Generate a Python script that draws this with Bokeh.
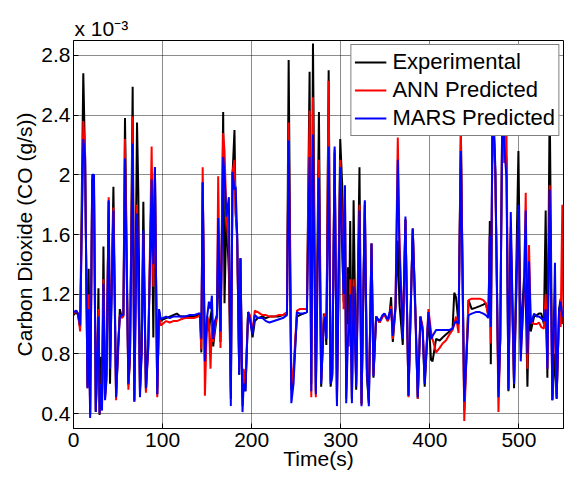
from bokeh.plotting import figure
from bokeh.models import FixedTicker, Legend, LegendItem, Range1d, Title
from bokeh.embed import file_html
from bokeh.resources import INLINE

# ---- data (CO2 in units of 1e-3 g/s) ----
time_s = [0, 3, 5, 7.5, 11, 13, 15.7, 17, 18.7, 21,
          23, 25, 26.5, 28, 29.3, 30.6, 32, 33.6, 35.4, 37,
          39.5, 41, 44.8, 47.8, 50, 52, 54, 56, 57.8, 61.6,
          63.4, 66.4, 68.3, 71.3, 72.8, 74.6, 76.5, 78.4, 81.3, 84,
          87.7, 89.6, 91.4, 94, 96, 98, 100, 104, 108, 112,
          116, 120, 125, 130, 135, 140, 142, 143.5, 145, 147.5,
          150, 152, 153.8, 155.3, 156.8, 158.7, 161, 162.4, 165, 168,
          169.5, 171.7, 174.4, 176.6, 178.5, 180.7, 182, 183.7, 186, 187.4,
          189.7, 191, 193, 196, 198, 201, 203.5, 207, 212, 216,
          220, 225, 230, 235, 239.6, 241.5, 244.5, 247, 250.8, 254,
          258, 262, 265, 266.9, 268.8, 272, 275.5, 278, 281, 282.5,
          283.8, 286.4, 288.6, 290.5, 293.1, 295.7, 299.4, 301.7, 303.2, 304.7,
          306.1, 308, 309.1, 310.6, 312.5, 314.4, 317.3, 321, 323.3, 327,
          329.3, 331.5, 334.5, 336.7, 339.7, 343.5, 347, 349, 352.8, 354.5,
          356.5, 358.4, 361.4, 364, 365.8, 369.6, 372.6, 376, 380.8, 383.8,
          386.4, 389.4, 392, 394.2, 398.4, 401.3, 403, 407, 411, 414.3,
          418, 422, 425.5, 427.4, 429.3, 432.2, 434.8, 438.6, 443.4, 447,
          451.6, 456, 460, 462.8, 465.8, 467.3, 468.4, 470.5, 473.5, 477,
          479, 481.5, 483.4, 486, 488.2, 490.8, 494.5, 499.4, 502, 505.7,
          507.6, 509.5, 511.3, 513.2, 517, 520, 522.5, 525, 528, 530,
          531.9, 534.5, 537.5, 540.4, 542.3, 545, 546.8, 548.7, 550]

experimental = [1.06, 1.08, 1.06, 0.98, 2.68, 2.10, 0.58, 1.37, 0.40, 1.97,
                1.90, 0.41, 0.70, 1.24, 0.39, 0.78, 0.50, 1.52, 0.52, 0.67,
                1.82, 0.60, 1.92, 0.52, 0.80, 1.10, 1.05, 1.06, 2.38, 0.59,
                0.76, 2.59, 0.49, 2.35, 1.87, 0.55, 0.85, 1.82, 0.55, 0.90,
                1.95, 0.91, 2.05, 0.53, 1.09, 1.02, 1.03, 1.04, 1.05, 1.06,
                1.07, 1.05, 1.05, 1.05, 1.05, 1.06, 1.07, 0.81, 1.95, 0.75,
                1.05, 0.95, 1.05, 1.10, 0.85, 0.95, 1.05, 1.50, 0.88, 2.42,
                1.14, 1.75, 1.34, 0.50, 2.00, 2.30, 1.74, 1.60, 0.66, 1.44,
                0.50, 0.65, 0.55, 1.08, 1.05, 0.91, 1.02, 1.04, 1.05, 1.04,
                1.05, 1.05, 1.05, 1.06, 1.07, 2.77, 0.56, 0.67, 1.05, 1.06,
                1.07, 1.08, 2.69, 0.60, 2.88, 0.55, 2.42, 0.58, 1.07, 1.02,
                0.86, 2.70, 0.58, 0.67, 2.15, 0.50, 2.24, 1.92, 1.15, 1.85,
                0.56, 1.38, 0.90, 1.69, 0.50, 1.83, 0.56, 2.05, 0.47, 1.80,
                0.65, 0.47, 1.54, 0.64, 1.05, 1.01, 1.05, 1.07, 1.02, 1.05,
                1.18, 0.88, 1.10, 1.56, 1.14, 0.86, 1.70, 0.52, 1.64, 1.10,
                0.50, 1.05, 0.95, 0.58, 1.05, 0.76, 0.75, 0.90, 0.89, 0.91,
                0.93, 0.95, 0.97, 1.21, 1.18, 1.00, 2.30, 0.42, 1.16, 1.10,
                1.11, 1.12, 1.13, 1.14, 1.05, 1.69, 0.73, 2.55, 2.00, 0.55,
                0.90, 2.60, 2.30, 2.10, 0.55, 1.60, 0.57, 2.16, 0.90, 1.31,
                1.20, 0.58, 1.10, 0.95, 1.05, 1.06, 1.07, 1.07, 1.00, 1.76,
                0.64, 2.50, 0.49, 0.80, 0.50, 1.10, 1.17, 1.00, 1.05]

ann_predicted = [1.07, 1.09, 1.07, 0.95, 2.36, 2.15, 0.57, 1.20, 0.39, 1.95,
                 1.95, 0.42, 0.75, 1.10, 0.40, 0.60, 0.45, 1.30, 0.50, 0.65,
                 1.85, 0.80, 1.78, 0.49, 0.85, 1.06, 1.04, 1.05, 2.24, 0.56,
                 0.78, 2.39, 0.48, 1.80, 1.20, 0.56, 0.82, 1.60, 0.54, 0.85,
                 2.19, 1.25, 2.02, 0.51, 1.07, 0.99, 1.00, 1.02, 1.01, 1.02,
                 1.02, 1.03, 1.04, 1.04, 1.04, 1.05, 1.06, 0.83, 2.05, 0.52,
                 1.05, 1.00, 0.70, 1.00, 0.88, 0.98, 1.06, 1.99, 0.84, 2.28,
                 2.16, 1.72, 1.50, 0.55, 2.02, 2.10, 1.76, 1.55, 0.70, 1.44,
                 0.45, 0.70, 0.60, 1.08, 1.06, 0.95, 1.09, 1.08, 1.06, 1.06,
                 1.05, 1.05, 1.06, 1.06, 1.08, 2.35, 0.58, 0.70, 1.09, 1.10,
                 1.10, 1.10, 2.43, 0.51, 2.52, 0.51, 2.10, 0.62, 1.05, 1.07,
                 0.90, 2.63, 0.62, 0.70, 2.17, 0.48, 2.10, 1.60, 1.10, 1.90,
                 0.50, 1.00, 0.85, 1.30, 0.50, 1.30, 0.60, 1.80, 0.46, 1.82,
                 0.70, 0.50, 1.54, 0.66, 1.05, 1.01, 1.05, 1.06, 1.02, 1.06,
                 1.12, 0.90, 1.12, 2.25, 1.60, 0.90, 1.70, 0.51, 1.64, 1.05,
                 0.50, 1.05, 0.98, 0.62, 1.10, 0.95, 0.90, 0.81, 0.84, 0.87,
                 0.89, 0.93, 0.96, 1.00, 1.05, 0.94, 2.29, 0.35, 1.16, 1.17,
                 1.17, 1.17, 1.16, 1.14, 1.05, 1.59, 0.87, 2.50, 2.00, 0.41,
                 0.90, 2.55, 2.08, 2.30, 0.57, 1.65, 0.60, 1.77, 0.80, 1.20,
                 1.88, 0.70, 1.53, 1.02, 1.00, 1.00, 1.01, 0.98, 0.97, 1.20,
                 0.70, 1.93, 0.50, 1.20, 0.52, 1.05, 0.98, 1.80, 1.00]

mars_predicted = [1.08, 1.09, 1.07, 0.99, 2.24, 2.12, 0.57, 1.10, 0.37, 2.00,
                  2.00, 0.41, 0.75, 1.05, 0.40, 0.60, 0.42, 1.27, 0.49, 0.62,
                  1.83, 0.70, 1.76, 0.51, 0.85, 1.05, 1.06, 1.06, 2.11, 0.60,
                  0.80, 2.21, 0.48, 1.74, 1.40, 0.51, 0.80, 1.63, 0.57, 0.85,
                  1.97, 1.40, 2.05, 0.53, 1.10, 1.03, 1.04, 1.05, 1.04, 1.05,
                  1.05, 1.05, 1.05, 1.06, 1.06, 1.07, 1.07, 0.90, 1.95, 0.75,
                  1.05, 1.15, 1.10, 1.19, 0.90, 1.02, 1.06, 1.71, 0.95, 2.12,
                  2.00, 1.72, 1.85, 0.45, 2.02, 1.90, 1.92, 1.60, 0.66, 1.44,
                  0.41, 0.60, 0.55, 1.08, 1.03, 0.93, 1.06, 1.04, 1.04, 1.02,
                  1.01, 1.02, 1.03, 1.04, 1.06, 2.23, 0.47, 0.60, 1.08, 1.07,
                  1.07, 1.08, 2.12, 0.55, 2.27, 0.53, 1.98, 0.60, 1.00, 1.05,
                  0.90, 2.19, 0.60, 0.65, 2.19, 0.45, 2.05, 1.45, 1.20, 1.93,
                  0.47, 0.90, 0.95, 1.20, 0.47, 1.25, 0.58, 1.76, 0.45, 1.83,
                  0.70, 0.45, 1.54, 0.65, 1.05, 1.02, 1.06, 1.07, 1.03, 1.07,
                  1.10, 0.92, 1.12, 2.10, 1.50, 0.90, 1.72, 0.52, 1.64, 1.05,
                  0.51, 1.05, 0.95, 0.60, 1.08, 0.90, 0.92, 0.96, 0.96, 0.96,
                  0.96, 0.96, 0.97, 1.00, 1.02, 1.00, 2.16, 0.48, 1.06, 1.07,
                  1.08, 1.08, 1.07, 1.06, 1.04, 1.59, 0.98, 2.55, 2.05, 0.51,
                  0.90, 2.50, 2.20, 1.98, 0.56, 1.75, 0.60, 1.80, 0.75, 1.25,
                  1.76, 0.80, 1.42, 1.00, 1.07, 1.05, 1.05, 1.04, 1.02, 1.10,
                  0.70, 1.90, 0.49, 1.41, 0.50, 1.08, 1.15, 1.05, 1.08]

x_ticks = [0, 100, 200, 300, 400, 500]
y_ticks = [0.4, 0.8, 1.2, 1.6, 2.0, 2.4, 2.8]
y_tick_labels = ["0.4", "0.8", "1.2", "1.6", "2", "2.4", "2.8"]
series_names = ["Experimental", "ANN Predicted", "MARS Predicted"]
series_colors = ["#000000", "#ff0000", "#0000ff"]

FONT = "Liberation Sans"

p = figure(width=565, height=479, output_backend="svg", toolbar_location=None,
           x_range=Range1d(0, 550), y_range=Range1d(0.3, 2.9),
           min_border_left=73, min_border_right=2, min_border_top=40,
           min_border_bottom=51)
p.outline_line_color = "black"
p.outline_line_width = 1

# exponent label (as title, above the axes)
p.title = Title(text="x 10\u207b\u00b3", align="left", offset=1, standoff=2,
                text_font=FONT, text_font_size="21px", text_font_style="normal",
                text_color="black")

renderers = []
for ys, col in zip([experimental, ann_predicted, mars_predicted], series_colors):
    renderers.append(p.line(time_s, ys, line_color=col, line_width=2))

# axes
p.xaxis.ticker = FixedTicker(ticks=x_ticks)
p.yaxis.ticker = FixedTicker(ticks=y_ticks)
p.yaxis.major_label_overrides = {t: l for t, l in zip(y_ticks, y_tick_labels)}
for ax in [p.xaxis[0], p.yaxis[0]]:
    ax.major_tick_in = 5
    ax.major_tick_out = 0
    ax.minor_tick_line_color = None
    ax.axis_line_color = "black"
    ax.major_tick_line_color = "black"
    ax.major_label_text_font = FONT
    ax.major_label_text_font_size = "21px"
    ax.major_label_text_color = "black"
    ax.axis_label_text_font = FONT
    ax.axis_label_text_font_size = "21px"
    ax.axis_label_text_font_style = "normal"
    ax.axis_label_text_color = "black"
p.xaxis.axis_label = "Time(s)"
p.yaxis.axis_label = "Carbon Dioxide (CO (g/s))"
p.xaxis.major_label_standoff = 4
p.xaxis.axis_label_standoff = -3
p.yaxis.major_label_standoff = 3
p.yaxis.axis_label_standoff = 2

# grid
p.xgrid.ticker = FixedTicker(ticks=x_ticks)
p.ygrid.ticker = FixedTicker(ticks=y_ticks)
p.grid.grid_line_color = "#000000"
p.grid.grid_line_alpha = 0.9
p.grid.grid_line_dash = "1 1"
p.grid.grid_line_width = 1

legend = Legend(items=[LegendItem(label=n, renderers=[r]) for n, r in zip(series_names, renderers)],
                location="top_right")
legend.margin = 4
legend.padding = 3
legend.spacing = 0
legend.glyph_width = 32
legend.glyph_height = 28
legend.label_height = 28
legend.label_standoff = 6
legend.label_text_font = FONT
legend.label_text_font_size = "22px"
legend.label_text_color = "black"
legend.border_line_color = "black"
legend.border_line_width = 1
legend.background_fill_color = "white"
legend.background_fill_alpha = 1.0
p.add_layout(legend)

open("out.html", "w").write(file_html(p, INLINE))
